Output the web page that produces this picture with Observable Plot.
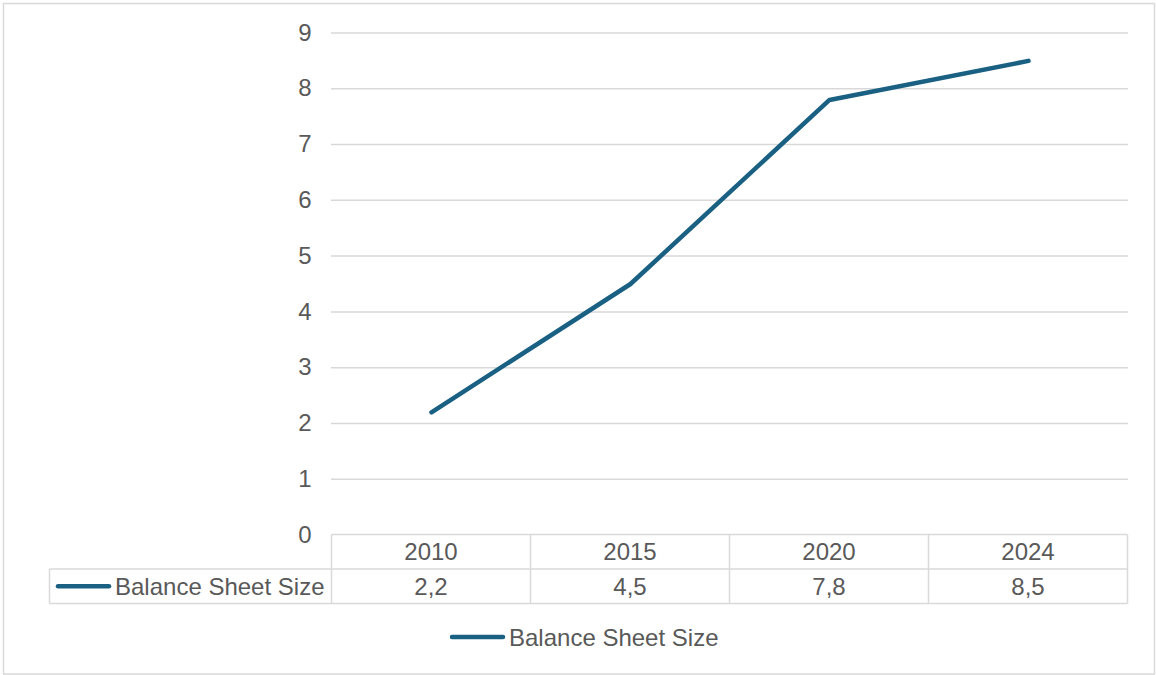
<!DOCTYPE html>
<html><head><meta charset="utf-8">
<script src="https://cdn.jsdelivr.net/npm/d3@7"></script>
<script src="https://cdn.jsdelivr.net/npm/@observablehq/plot@0.6"></script>
<style>
html,body{margin:0;padding:0;background:#fff;}
#chart{position:relative;width:1156px;height:675px;}
#chart svg{display:block;}
</style></head><body><div id="chart"></div>
<script>
const years = ["2010", "2015", "2020", "2024"];
const balanceSheetSize = [2.2, 4.5, 7.8, 8.5];
const valueLabels = ["2,2", "4,5", "7,8", "8,5"];
const seriesName = "Balance Sheet Size";
const yTicks = [0, 1, 2, 3, 4, 5, 6, 7, 8, 9];

const data = years.map((y, i) => ({year: y, value: balanceSheetSize[i]}));
const W = 1156, H = 675;
const font = "'Liberation Sans', Arial, sans-serif";
const lineColor = "#1a6083";
const gridColor = "#d9d9d9";
const textColor = "#595959";

const chart = Plot.plot({
  width: W, height: H,
  marginLeft: 331, marginRight: 28, marginTop: 32.5, marginBottom: 140.5,
  style: {fontFamily: font, fontSize: "24px", color: textColor, background: "#fff", overflow: "visible"},
  x: {type: "point", domain: years, padding: 0.5, axis: null},
  y: {domain: [0, 9], axis: null},
  marks: [
    Plot.ruleY(yTicks.filter(t => t > 0), {stroke: gridColor, strokeWidth: 1.5}),
    Plot.axisY({ticks: yTicks, tickSize: 0, tickPadding: 20, label: null, fontSize: 24, fill: textColor}),
    Plot.line(data, {x: "year", y: "value", stroke: lineColor, strokeWidth: 4.5, strokeLinecap: "round", strokeLinejoin: "round"})
  ]
});
document.getElementById("chart").appendChild(chart);

// Data table and legend, positioned through the plot's own scales
const xs = chart.scale("x"), ys = chart.scale("y");
const step = xs.apply(years[1]) - xs.apply(years[0]);
const left = xs.apply(years[0]) - step / 2;
const right = xs.apply(years[years.length - 1]) + step / 2;
const y0 = ys.apply(0);
const rowH = 34.5;
const tableLeft = 49.5;

const svg = d3.select(chart);
const g = svg.append("g").attr("font-family", font).attr("font-size", 24).attr("fill", textColor)
  .attr("text-anchor", "start");

// outer chart border
g.append("rect").attr("x", 3.5).attr("y", 3.5).attr("width", W - 5).attr("height", H - 4.5)
  .attr("fill", "none").attr("stroke", gridColor).attr("stroke-width", 1.5);

const border = {stroke: gridColor, "stroke-width": 1.5};
function line(x1, y1, x2, y2, attrs) {
  const l = g.append("line").attr("x1", x1).attr("y1", y1).attr("x2", x2).attr("y2", y2);
  for (const k in attrs) l.attr(k, attrs[k]);
  return l;
}
// horizontal table lines
line(left, y0, right, y0, border);
line(tableLeft, y0 + rowH, right, y0 + rowH, border);
line(tableLeft, y0 + 2 * rowH, right, y0 + 2 * rowH, border);
// vertical table lines
line(tableLeft, y0 + rowH, tableLeft, y0 + 2 * rowH, border);
years.forEach((yr) => {
  const xl = xs.apply(yr) - step / 2;
  line(xl, y0, xl, y0 + 2 * rowH, border);
});
line(right, y0, right, y0 + 2 * rowH, border);

// header and values
years.forEach((yr, i) => {
  const cx = xs.apply(yr);
  g.append("text").attr("x", cx).attr("y", y0 + rowH / 2).attr("text-anchor", "middle")
    .attr("dominant-baseline", "central").text(yr);
  g.append("text").attr("x", cx).attr("y", y0 + rowH * 1.5).attr("text-anchor", "middle")
    .attr("dominant-baseline", "central").text(valueLabels[i]);
});
// series key in table
const keyY = y0 + rowH * 1.5;
line(58, keyY, 109, keyY, {stroke: lineColor, "stroke-width": 4.5, "stroke-linecap": "round"});
g.append("text").attr("x", 115).attr("y", keyY).attr("text-anchor", "start")
  .attr("dominant-baseline", "central").text(seriesName);

// bottom legend
const legY = 637;
line(452, legY, 503, legY, {stroke: lineColor, "stroke-width": 4.5, "stroke-linecap": "round"});
g.append("text").attr("x", 509).attr("y", legY).attr("text-anchor", "start")
  .attr("dominant-baseline", "central").text(seriesName);
</script>
</body></html>
